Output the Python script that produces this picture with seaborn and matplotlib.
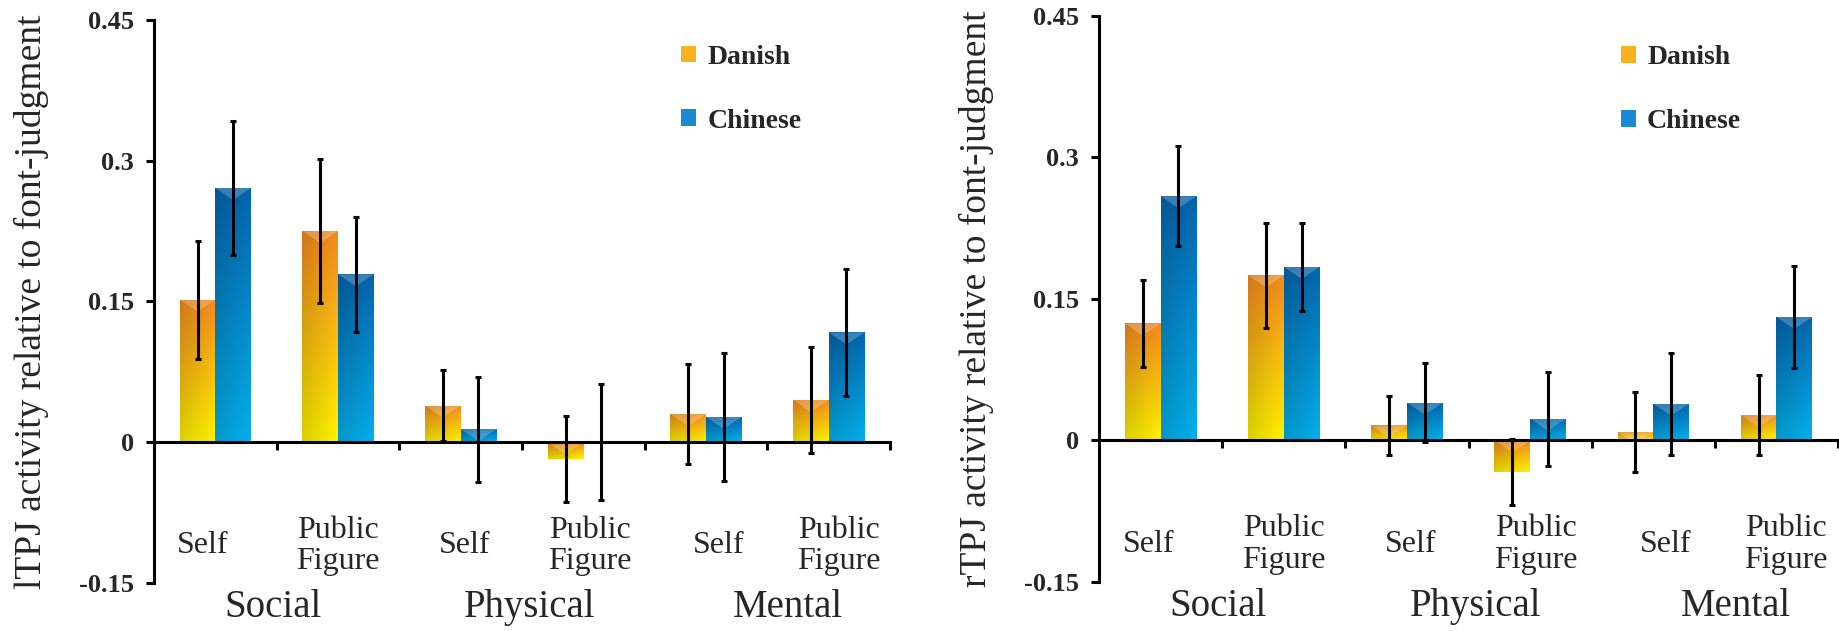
import numpy as np
import pandas as pd
import matplotlib

matplotlib.use("Agg")
import matplotlib.pyplot as plt
import matplotlib.transforms as mtransforms
from matplotlib.colors import to_rgb
from matplotlib.patches import Patch, Polygon
import seaborn as sns


CONDITIONS = [
    "Social Self",
    "Social Public Figure",
    "Physical Self",
    "Physical Public Figure",
    "Mental Self",
    "Mental Public Figure",
]
TARGET_LABELS = ["Self", "Public\nFigure", "Self", "Public\nFigure", "Self", "Public\nFigure"]
DOMAIN_LABELS = ["Social", "Physical", "Mental"]
GROUPS = ["Danish", "Chinese"]
Y_TICKS = [-0.15, 0, 0.15, 0.3, 0.45]

LTPJ_DANISH = [0.152, 0.225, 0.039, -0.018, 0.030, 0.045]
LTPJ_DANISH_SE = [0.063, 0.077, 0.038, 0.046, 0.053, 0.057]
LTPJ_CHINESE = [0.271, 0.179, 0.014, 0.000, 0.027, 0.117]
LTPJ_CHINESE_SE = [0.071, 0.061, 0.056, 0.062, 0.068, 0.068]

RTPJ_DANISH = [0.124, 0.175, 0.016, -0.033, 0.009, 0.027]
RTPJ_DANISH_SE = [0.046, 0.056, 0.031, 0.035, 0.042, 0.042]
RTPJ_CHINESE = [0.259, 0.184, 0.040, 0.023, 0.039, 0.131]
RTPJ_CHINESE_SE = [0.053, 0.047, 0.042, 0.050, 0.054, 0.054]

# hand-placed label positions (category units), like the original text boxes
TARGET_LABEL_X = [-0.1, 1.0, 2.03, 3.05, 4.1, 5.08]
DOMAIN_LABEL_X = [0.47, 2.56, 4.67]

GRADIENTS = {
    "Danish": ("#F58A1F", "#FFF200"),
    "Chinese": ("#0565AD", "#04B0EC"),
}
LEGEND_COLORS = {"Danish": "#F9B21B", "Chinese": "#1A8AD4"}

SERIF = ["Liberation Serif", "DejaVu Serif"]


def gradient_fill(ax, container, group):
    top, bottom = (np.array(to_rgb(c)) for c in GRADIENTS[group])
    t = np.linspace(0, 1, 64)[:, None, None]
    s = np.linspace(0.86, 1.0, 32)[None, :, None]
    img = (top * (1 - t) + bottom * t) * s
    img = np.clip(img, 0, 1)

    px_per_unit = ax.get_window_extent().height / np.ptp(ax.get_ylim())
    for bar in container.patches:
        h = bar.get_height()
        if h == 0:
            continue
        x0 = bar.get_x()
        w = bar.get_width()
        y0, y1 = sorted([bar.get_y(), bar.get_y() + h])
        bar.set_edgecolor("none")
        im = ax.imshow(
            img,
            extent=[x0, x0 + w, y0, y1],
            origin="upper",
            aspect="auto",
            interpolation="bilinear",
            zorder=1.2,
        )
        im.set_clip_path(bar)
        depth = 12 / px_per_unit
        bevel = Polygon(
            [(x0, y1), (x0 + w, y1), (x0 + w / 2, y1 - depth)],
            closed=True,
            facecolor="white",
            alpha=0.22,
            edgecolor="none",
            zorder=1.3,
        )
        ax.add_patch(bevel)
        bevel.set_clip_path(bar)


def draw_panel(ax, danish, danish_se, chinese, chinese_se, ylabel, legend_x, legend_y):
    df = pd.DataFrame(
        {
            "condition": CONDITIONS * 2,
            "group": ["Danish"] * len(CONDITIONS) + ["Chinese"] * len(CONDITIONS),
            "value": list(danish) + list(chinese),
        }
    )
    sns.barplot(
        data=df,
        x="condition",
        y="value",
        hue="group",
        order=CONDITIONS,
        hue_order=GROUPS,
        palette=LEGEND_COLORS,
        width=0.58,
        errorbar=None,
        legend=False,
        ax=ax,
    )
    ax.set_xlim(-0.5, len(CONDITIONS) - 0.5)
    ax.set_ylim(Y_TICKS[0], Y_TICKS[-1])

    for container, group in zip(ax.containers, GROUPS):
        gradient_fill(ax, container, group)

    for container, vals, se in zip(
        ax.containers, [danish, chinese], [danish_se, chinese_se]
    ):
        centers = [b.get_x() + b.get_width() / 2 for b in container.patches]
        ax.errorbar(
            centers,
            vals,
            yerr=se,
            fmt="none",
            ecolor="black",
            elinewidth=2.2,
            capsize=2.5,
            capthick=2.2,
            zorder=4,
        )

    for side in ["top", "right"]:
        ax.spines[side].set_visible(False)
    ax.spines["bottom"].set_position(("data", 0))
    for side in ["left", "bottom"]:
        ax.spines[side].set_linewidth(2.2)
        ax.spines[side].set_color("black")
        ax.spines[side].set_zorder(3)

    ax.set_xticks([])
    ax.set_xticks(np.arange(len(CONDITIONS)) + 0.5, minor=True)
    ax.tick_params(axis="x", which="minor", bottom=True, direction="out",
                   length=6, width=2.2, color="black", labelbottom=False)
    ax.set_yticks(Y_TICKS)
    ax.set_yticklabels([f"{v:g}" for v in Y_TICKS])
    ax.tick_params(axis="y", which="major", left=True, direction="out",
                   length=5.5, width=2.2, pad=9, color="black")
    for lab in ax.get_yticklabels():
        lab.set_fontfamily(SERIF)
        lab.set_fontweight("bold")
        lab.set_fontsize(19)

    ax.set_xlabel("")
    ax.set_ylabel(ylabel, fontsize=27, family=SERIF, va="center")
    ax.yaxis.set_label_coords(-0.166, 0.5)

    trans = mtransforms.blended_transform_factory(ax.transData, ax.transAxes)
    for x, label in zip(TARGET_LABEL_X, TARGET_LABELS):
        ax.text(x, 0.066, label, transform=trans, ha="center", va="center",
                fontsize=23, family=SERIF, linespacing=1.12)
    for x, label in zip(DOMAIN_LABEL_X, DOMAIN_LABELS):
        ax.text(x, -0.043, label, transform=trans, ha="center", va="center",
                fontsize=28, family=SERIF, clip_on=False)

    handles = [Patch(facecolor=LEGEND_COLORS[g], edgecolor="none") for g in GROUPS]
    ax.legend(
        handles,
        GROUPS,
        loc="center left",
        bbox_to_anchor=(legend_x, legend_y),
        frameon=False,
        borderpad=0,
        borderaxespad=0,
        handlelength=0.55,
        handleheight=0.55,
        handletextpad=0.4,
        labelspacing=1.4,
        prop={"family": SERIF, "weight": "bold", "size": 20},
    )


sns.set_theme(style="white")
plt.rcParams["font.family"] = SERIF
plt.rcParams["axes.unicode_minus"] = False

fig = plt.figure(figsize=(18.4, 6.31), dpi=100)
ax_l = fig.add_axes([0.0837, 0.0761, 0.4, 0.8922])
ax_r = fig.add_axes([0.5973, 0.0777, 0.4016, 0.897])

draw_panel(ax_l, LTPJ_DANISH, LTPJ_DANISH_SE, LTPJ_CHINESE, LTPJ_CHINESE_SE,
           "lTPJ activity relative to font-judgment", 0.716, 0.877)
draw_panel(ax_r, RTPJ_DANISH, RTPJ_DANISH_SE, RTPJ_CHINESE, RTPJ_CHINESE_SE,
           "rTPJ activity relative to font-judgment", 0.706, 0.870)

fig.savefig("out.png", dpi=100)
plt.close(fig)
